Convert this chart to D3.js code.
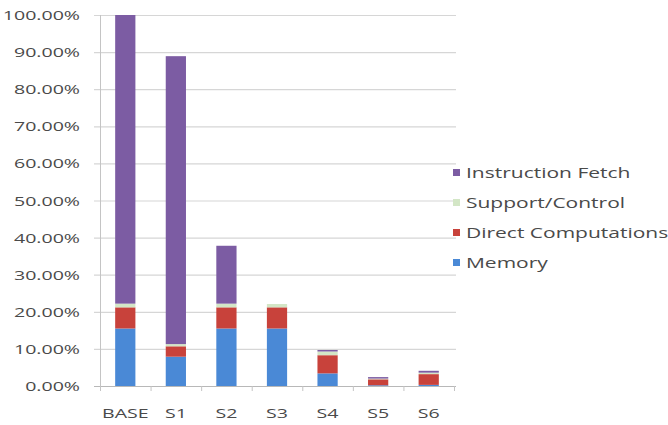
<!DOCTYPE html>
<html>
<head>
<meta charset="utf-8">
<script src="https://cdn.jsdelivr.net/npm/d3@7"></script>
<style>
  html, body { margin: 0; padding: 0; background: #fff; }
  svg { display: block; }
  text { font-family: "Open Sans", "Liberation Sans", sans-serif; fill: #4a4a4a; }
</style>
</head>
<body>
<svg id="chart" width="668" height="425"></svg>
<script>
// Categories (design variants) and stacked share of energy per component, in %
const categories = ["BASE", "S1", "S2", "S3", "S4", "S5", "S6"];
const memory        = [15.5, 7.9, 15.5, 15.5, 3.4, 0.2, 0.3];
const directComp    = [5.7, 2.8, 5.7, 5.7, 4.9, 1.6, 2.9];
const supportCtrl   = [1.0, 0.6, 1.0, 0.9, 1.0, 0.2, 0.4];
const instrFetch    = [77.8, 77.6, 15.6, 0.0, 0.4, 0.4, 0.5];
const seriesNames   = ["Memory", "Direct Computations", "Support/Control", "Instruction Fetch"];
const yTicks        = [0, 10, 20, 30, 40, 50, 60, 70, 80, 90, 100];

const colors = {
  "Memory": "#4a89d6",
  "Direct Computations": "#c8423b",
  "Support/Control": "#d3e6c6",
  "Instruction Fetch": "#7c5ca3"
};

const rows = categories.map((c, i) => ({
  cat: c,
  "Memory": memory[i],
  "Direct Computations": directComp[i],
  "Support/Control": supportCtrl[i],
  "Instruction Fetch": instrFetch[i]
}));

const svg = d3.select("#chart");
const margin = { left: 100, right: 214, top: 15, bottom: 39 };
const W = 668, H = 425;
const x0 = margin.left, x1 = W - margin.right;
const yTop = margin.top, yBot = H - margin.bottom;

const x = d3.scaleBand().domain(categories).range([x0, x1]).paddingInner(0.6).paddingOuter(0.3);
const y = d3.scaleLinear().domain([0, 100]).range([yBot, yTop]);
const sx = 1.45; // horizontal stretch of the label type

// gridlines
svg.append("g")
  .selectAll("line").data(yTicks).join("line")
  .attr("x1", x0 - 6).attr("x2", x1 + 2)
  .attr("y1", d => y(d) + 0.5).attr("y2", d => y(d) + 0.5)
  .attr("stroke", d => d === 0 ? "#b8b8b8" : "#d6d6d6").attr("stroke-width", 1.2);

// y axis line
svg.append("line")
  .attr("x1", x0 + 0.5).attr("x2", x0 + 0.5).attr("y1", yTop).attr("y2", yBot + 5)
  .attr("stroke", "#c4c4c4");

// x tick marks at band edges
const edges = categories.map(c => x(c) - x.step() * x.paddingInner() / 2).concat([x1]);
svg.append("g").selectAll("line").data(edges.slice(1)).join("line")
  .attr("x1", d => d + 0.5).attr("x2", d => d + 0.5)
  .attr("y1", yBot).attr("y2", yBot + 5)
  .attr("stroke", "#c4c4c4");

// y labels
svg.append("g").selectAll("text").data(yTicks).join("text")
  .attr("transform", d => `translate(80,${y(d) + 5}) scale(${sx},1)`)
  .attr("text-anchor", "end")
  .attr("font-size", 13.5)
  .text(d => d.toFixed(2) + "%");

// stacked bars
const stack = d3.stack().keys(seriesNames)(rows);
svg.append("g").selectAll("g").data(stack).join("g")
  .attr("fill", d => colors[d.key])
  .selectAll("rect").data(d => d).join("rect")
  .attr("x", d => x(d.data.cat))
  .attr("width", x.bandwidth())
  .attr("y", d => y(d[1]))
  .attr("height", d => Math.max(0, y(d[0]) - y(d[1])));

// x labels
svg.append("g").selectAll("text").data(categories).join("text")
  .attr("transform", d => `translate(${x(d) + x.bandwidth() / 2},418) scale(${sx},1)`)
  .attr("text-anchor", "middle")
  .attr("font-size", 13.5)
  .text(d => d);

// legend (top entry is the top of the stack)
const legendItems = seriesNames.slice().reverse();
const lg = svg.append("g").selectAll("g").data(legendItems).join("g")
  .attr("transform", (d, i) => `translate(453,${173 + i * 30})`);
lg.append("rect").attr("x", 0).attr("y", -4).attr("width", 7).attr("height", 7)
  .attr("fill", d => colors[d]);
lg.append("text")
  .attr("transform", `translate(13,5) scale(1.5,1)`)
  .attr("font-size", 14)
  .text(d => d);
</script>
</body>
</html>
